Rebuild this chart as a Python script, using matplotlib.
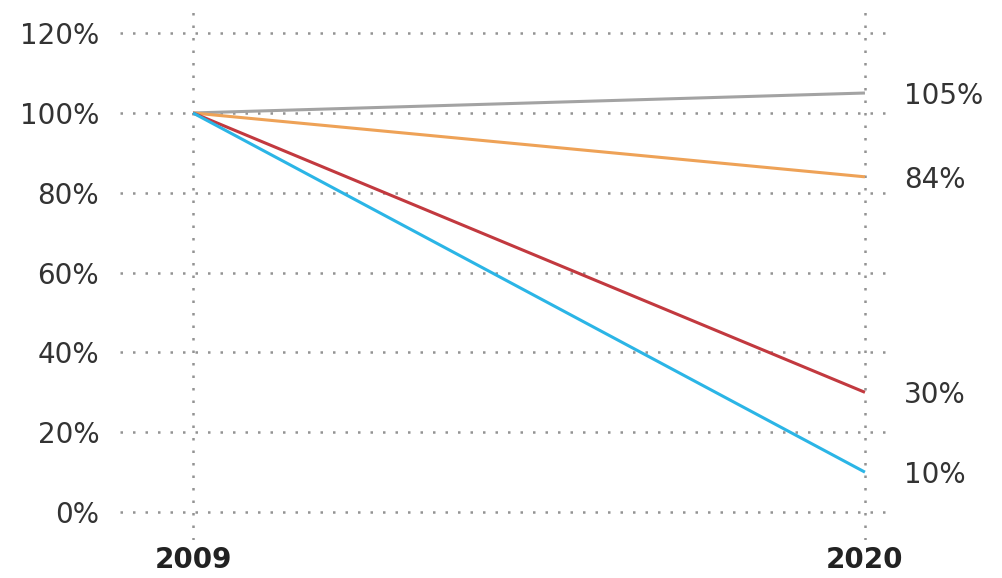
import matplotlib.pyplot as plt

years = [2009, 2020]
series_names = ["grey", "orange", "red", "blue"]
series_values = [
    [100, 105],
    [100, 84],
    [100, 30],
    [100, 10],
]
series_colors = ["#a3a3a3", "#eea257", "#c2393f", "#2bb5e6"]
end_labels = ["105%", "84%", "30%", "10%"]
y_ticks = [0, 20, 40, 60, 80, 100, 120]

fig = plt.figure(figsize=(10.03, 5.78), dpi=100)
ax = fig.add_axes([120 / 1003, 38 / 578, 770 / 1003, 530 / 578])

for vals, color in zip(series_values, series_colors):
    ax.plot(years, vals, color=color, linewidth=2.2, solid_capstyle="butt", zorder=3)

for vals, label in zip(series_values, end_labels):
    ax.annotate(label, xy=(years[-1], vals[-1]), xytext=(28, -2),
                textcoords="offset points", ha="left", va="center",
                fontsize=20, color="#333333")

ax.set_xlim(2007.805, 2020.41)
ax.set_ylim(-7.0, 125.8)
ax.set_xticks(years)
ax.set_xticklabels([str(y) for y in years], fontsize=20, fontweight="bold",
                   color="#222222")
ax.set_yticks(y_ticks)
ax.set_yticklabels([f"{v}%" for v in y_ticks], fontsize=20, color="#333333")
ax.tick_params(axis="both", length=0)
ax.tick_params(axis="y", pad=15)
ax.tick_params(axis="x", pad=4)

ax.grid(True, color="#939393", linewidth=1.8, linestyle=(0, (1, 4)), zorder=1)
ax.set_axisbelow(True)
for s in ax.spines.values():
    s.set_visible(False)

fig.savefig("out.png", dpi=100)
